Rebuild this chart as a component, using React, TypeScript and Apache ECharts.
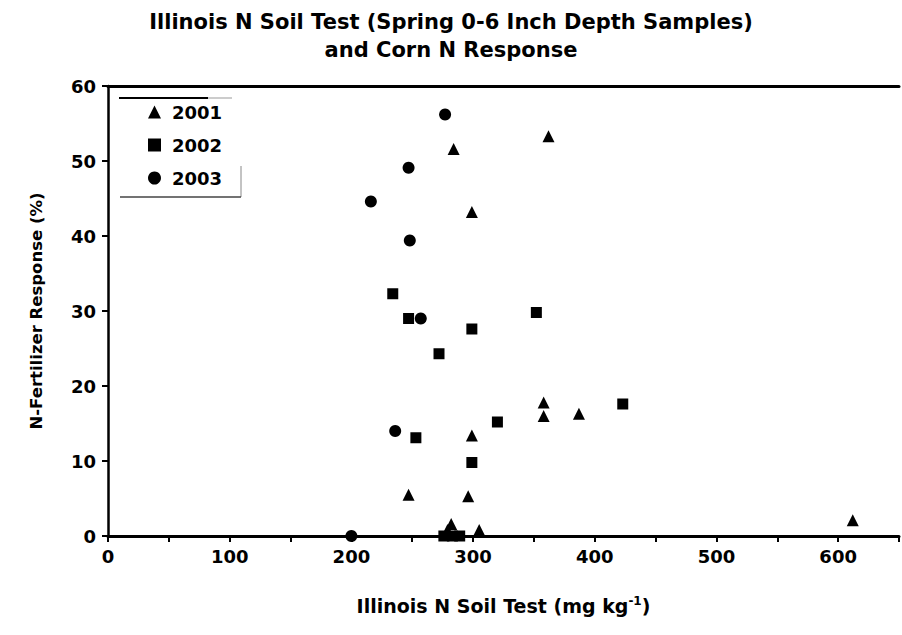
import React, { useEffect, useRef } from 'react';
import * as echarts from 'echarts';

const years = ['2001', '2002', '2003'];

const soil2001 = [362, 284, 299, 358, 358, 387, 299, 247, 296, 612, 305, 279, 282];
const resp2001 = [53.3, 51.6, 43.2, 17.8, 16.0, 16.3, 13.4, 5.5, 5.3, 2.1, 0.8, 0.8, 1.6];

const soil2002 = [234, 247, 352, 299, 272, 320, 423, 253, 299, 276, 283, 289];
const resp2002 = [32.3, 29.0, 29.8, 27.6, 24.3, 15.2, 17.6, 13.1, 9.8, 0, 0, 0];

const soil2003 = [277, 247, 216, 248, 257, 236, 200];
const resp2003 = [56.2, 49.1, 44.6, 39.4, 29.0, 14.0, 0];

const FONT = '"DejaVu Sans", "Liberation Sans", Arial, sans-serif';

function pairs(xs: number[], ys: number[]) {
  return xs.map((x, i) => [x, ys[i]]);
}

export default function App() {
  const ref = useRef<HTMLDivElement>(null);
  useEffect(() => {
    if (!ref.current) return;
    const chart = echarts.init(ref.current, null, { renderer: 'svg' });
    const axisFont = { fontFamily: FONT, fontWeight: 'bold' as const, fontSize: 18, color: '#000' };
    chart.setOption({
      animation: false,
      backgroundColor: '#fff',
      title: {
        text: 'Illinois N Soil Test (Spring 0-6 Inch Depth Samples)\nand Corn N Response',
        left: 'center',
        top: 3,
        textStyle: { fontFamily: FONT, fontWeight: 'bold', fontSize: 21, color: '#000', lineHeight: 28 },
      },
      legend: {
        orient: 'vertical',
        left: 143,
        top: 98,
        itemWidth: 13,
        itemHeight: 13,
        itemGap: 15,
        textStyle: { fontFamily: FONT, fontWeight: 'bold', fontSize: 18, color: '#000', padding: [0, 0, 0, 6] },
        data: [
          { name: years[0], icon: 'triangle', itemStyle: { color: '#000', opacity: 1 } },
          { name: years[1], icon: 'rect', itemStyle: { color: '#000', opacity: 1 } },
          { name: years[2], icon: 'circle', itemStyle: { color: '#000', opacity: 1 } },
        ],
      },
      graphic: [
        { type: 'line', shape: { x1: 119, y1: 98, x2: 208, y2: 98 }, style: { stroke: '#000', lineWidth: 2 } },
        { type: 'line', shape: { x1: 208, y1: 98, x2: 232, y2: 98 }, style: { stroke: '#999', lineWidth: 1 } },
        { type: 'line', shape: { x1: 241, y1: 166, x2: 241, y2: 197 }, style: { stroke: '#888', lineWidth: 1 } },
        { type: 'line', shape: { x1: 120, y1: 197, x2: 241, y2: 197 }, style: { stroke: '#444', lineWidth: 1.5 } },
      ],
      grid: { left: 108, top: 86, right: -9, bottom: 99, containLabel: false },
      xAxis: [
        {
          type: 'value',
          min: 0,
          max: 650,
          interval: 50,
          axisLine: { show: true, onZero: false, lineStyle: { color: '#000', width: 3 } },
          axisTick: { show: true, inside: false, length: 6, lineStyle: { color: '#000', width: 2 } },
          axisLabel: {
            ...axisFont,
            margin: 11,
            formatter: (v: number) => (v % 100 === 0 ? String(v) : ''),
          },
          splitLine: { show: false },
          name: 'Illinois N Soil Test (mg kg{sup|-1})',
          nameLocation: 'middle',
          nameGap: 59,
          nameTextStyle: {
            fontFamily: FONT,
            fontWeight: 'bold',
            fontSize: 19,
            color: '#000',
            rich: {
              sup: { fontFamily: FONT, fontWeight: 'bold', fontSize: 12, color: '#000', verticalAlign: 'top', padding: [0, 0, 10, 0] },
            },
          },
        },
        {
          type: 'value',
          position: 'top',
          min: 0,
          max: 650,
          axisLine: { show: true, onZero: false, lineStyle: { color: '#000', width: 3 } },
          axisTick: { show: false },
          axisLabel: { show: false },
          splitLine: { show: false },
        },
      ],
      yAxis: {
        type: 'value',
        min: 0,
        max: 60,
        interval: 10,
        axisLine: { show: true, onZero: false, lineStyle: { color: '#000', width: 2.5 } },
        axisTick: { show: true, inside: false, length: 6, lineStyle: { color: '#000', width: 2 } },
        axisLabel: { ...axisFont, margin: 12 },
        splitLine: { show: false },
        name: 'N-Fertilizer Response (%)',
        nameLocation: 'middle',
        nameGap: 63,
        nameRotate: 90,
        nameTextStyle: { fontFamily: FONT, fontWeight: 'bold', fontSize: 16.5, color: '#000' },
      },
      series: [
        {
          name: years[0],
          type: 'scatter',
          symbol: 'triangle',
          symbolSize: 12,
          itemStyle: { color: '#000', opacity: 1 },
          data: pairs(soil2001, resp2001),
        },
        {
          name: years[1],
          type: 'scatter',
          symbol: 'rect',
          symbolSize: 11,
          itemStyle: { color: '#000', opacity: 1 },
          data: pairs(soil2002, resp2002),
        },
        {
          name: years[2],
          type: 'scatter',
          symbol: 'circle',
          symbolSize: 12,
          itemStyle: { color: '#000', opacity: 1 },
          data: pairs(soil2003, resp2003),
        },
      ],
    });
    return () => chart.dispose();
  }, []);
  return <div ref={ref} style={{ width: 902, height: 635, position: 'absolute', left: 0, top: 0 }} />;
}
